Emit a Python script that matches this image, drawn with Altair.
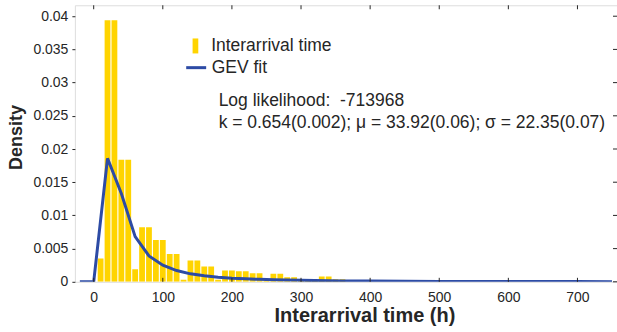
import altair as alt
import pandas as pd

# Histogram (bin centers, hours) and density values
bar_h = [10, 20, 30, 40, 50, 60, 70, 80, 90, 100, 110, 120, 130, 140, 150, 160, 170, 180,
         190, 200, 210, 220, 230, 240, 250, 260, 270, 280, 290, 300, 310, 320, 330, 340, 350, 360]
bar_d = [0.0035, 0.0394, 0.0394, 0.0184, 0.0184, 0.0019, 0.0082, 0.0082, 0.0063, 0.0063,
         0.0042, 0.0042, 0.0003, 0.0032, 0.0032, 0.0023, 0.0023, 0.0003, 0.0017, 0.0017,
         0.0016, 0.0016, 0.0013, 0.0013, 0.0002, 0.0012, 0.0012, 0.0007, 0.0007, 0.0002,
         0.0002, 0.0002, 0.0008, 0.0008, 0.0004, 0.0004]

# GEV fit curve
fit_h = [-20, 0, 20, 40, 60, 80, 100, 120, 140, 160, 180, 200, 220, 240, 260, 280, 300,
         320, 340, 360, 380, 400, 450, 500, 550, 600, 650, 700, 750]
fit_d = [0, 0, 0.0186, 0.0133, 0.0068, 0.0039, 0.0025, 0.0017, 0.0012, 0.0009, 0.0007,
         0.00055, 0.00045, 0.00037, 0.0003, 0.00026, 0.00022, 0.00019, 0.00016, 0.00014,
         0.00012, 0.00011, 0.00008, 0.00006, 0.00005, 0.00004, 0.00003, 0.00003, 0.00002]

x_ticks = [0, 100, 200, 300, 400, 500, 600, 700]
y_ticks = [0, 0.005, 0.01, 0.015, 0.02, 0.025, 0.03, 0.035, 0.04]

annot_lines = ["Log likelihood:\u00a0\u00a0-713968",
               "k = 0.654(0.002); μ = 33.92(0.06); σ = 22.35(0.07)"]
annot_rows = [0, 1]

W, H = 543, 277
FONT = "Liberation Sans"
TXT = "#262626"
GOLD = "#FFD400"
BLUE = "#2D4BA5"
LEG_FS = 17.5

bars_df = pd.DataFrame({"h": bar_h, "d": bar_d, "s": "Interarrival time"})
fit_df = pd.DataFrame({"h": fit_h, "d": fit_d, "s": "GEV fit"})
xt_df = pd.DataFrame({"t": x_ticks})
yt_df = pd.DataFrame({"t": y_ticks})
ann_df = pd.DataFrame({"txt": annot_lines, "row": annot_rows})

xscale = alt.Scale(domain=[-20, 750], nice=False, zero=False)
yscale = alt.Scale(domain=[0, 0.04165], nice=False)

x_axis = alt.Axis(values=x_ticks, title="Interarrival time (h)", ticks=False,
                  domain=False, grid=False, labelFontSize=14, labelPadding=9,
                  labelColor=TXT, labelFont=FONT, titleFont=FONT,
                  titleFontSize=20, titleFontWeight="bold", titleColor=TXT,
                  titlePadding=1, titleX=290, titleAlign="center")
y_axis = alt.Axis(values=y_ticks, title="Density", tickSize=3, tickColor=TXT,
                  domain=False, grid=False, labelFontSize=14, labelPadding=4,
                  labelColor=TXT, labelFont=FONT,
                  labelExpr="format(datum.value, '.3~f')",
                  titleFont=FONT, titleFontSize=18, titleFontWeight="bold",
                  titleColor=TXT, titlePadding=7, titleY=132, titleAlign="center")

bars = alt.Chart(bars_df).mark_bar(size=5.8, clip=True).encode(
    x=alt.X("h:Q", scale=xscale, axis=x_axis),
    y=alt.Y("d:Q", scale=yscale, axis=y_axis),
    fill=alt.Fill("s:N", scale=alt.Scale(domain=["Interarrival time"], range=[GOLD]),
                  legend=alt.Legend(title=None, orient="none", legendX=112, legendY=32,
                                    symbolType="M-0.38,-1H0.38V1H-0.38Z", symbolSize=225,
                                    symbolStrokeWidth=0, labelFontSize=LEG_FS,
                                    labelFont=FONT, labelColor=TXT, labelOffset=7,
                                    padding=0)),
)

line = alt.Chart(fit_df).mark_line(strokeWidth=3, clip=True).encode(
    x=alt.X("h:Q", scale=xscale, axis=x_axis),
    y=alt.Y("d:Q", scale=yscale, axis=y_axis),
    stroke=alt.Stroke("s:N", scale=alt.Scale(domain=["GEV fit"], range=[BLUE]),
                      legend=alt.Legend(title=None, orient="none", legendX=110, legendY=51,
                                        symbolType="stroke", symbolSize=400,
                                        symbolStrokeWidth=3, labelFontSize=LEG_FS,
                                        labelFont=FONT, labelColor=TXT, labelOffset=4,
                                        padding=0)),
)

bot_ticks = alt.Chart(xt_df).mark_rule(color=TXT, strokeWidth=1).encode(
    x=alt.X("t:Q", scale=xscale, axis=x_axis), y=alt.value(H), y2=alt.value(H - 4))
top_ticks = alt.Chart(xt_df).mark_rule(color=TXT, strokeWidth=1).encode(
    x=alt.X("t:Q", scale=xscale, axis=x_axis), y=alt.value(0), y2=alt.value(4))
right_ticks = alt.Chart(yt_df).mark_rule(color=TXT, strokeWidth=1).encode(
    y=alt.Y("t:Q", scale=yscale, axis=y_axis), x=alt.value(W), x2=alt.value(W - 4))

ann1 = alt.Chart(ann_df).transform_filter("datum.row == 0").mark_text(
    align="left", baseline="middle", fontSize=LEG_FS, font=FONT, color=TXT
).encode(x=alt.value(144), y=alt.value(96), text="txt:N")
ann2 = alt.Chart(ann_df).transform_filter("datum.row == 1").mark_text(
    align="left", baseline="middle", fontSize=LEG_FS, font=FONT, color=TXT
).encode(x=alt.value(144), y=alt.value(118), text="txt:N")

chart = alt.layer(bars, line, bot_ticks, top_ticks, right_ticks, ann1, ann2).properties(
    width=W, height=H,
    padding={"left": 75, "top": 5, "right": 0, "bottom": 50},
    autosize=alt.AutoSizeParams(type="none"),
).configure_view(stroke=TXT, strokeWidth=1).configure(background="white")

chart.save("out.html", embed_options={"renderer": "svg", "actions": False})
